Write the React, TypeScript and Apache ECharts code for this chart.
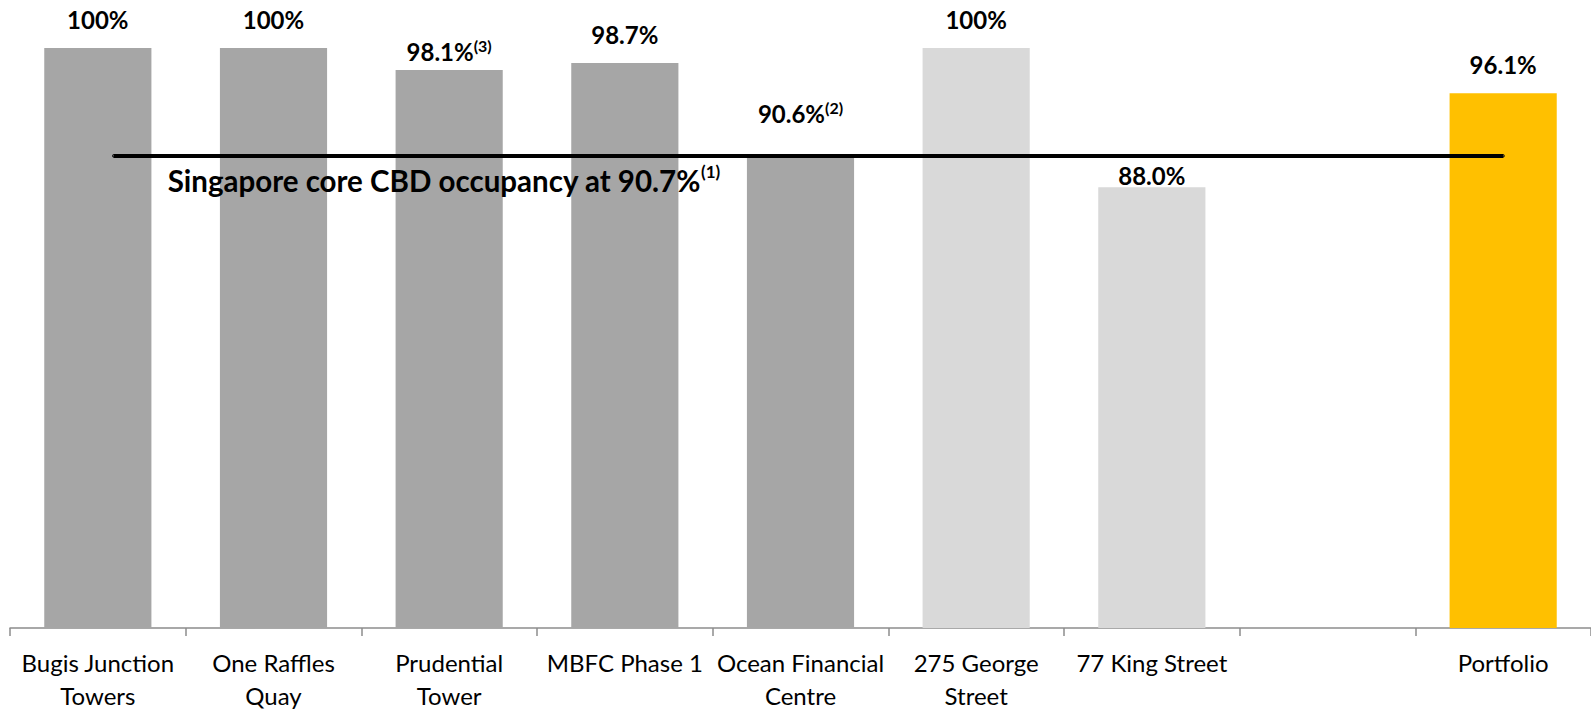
import React, { useEffect, useRef } from "react";
import * as echarts from "echarts";

// ---- data ----
const categories = [
  "Bugis Junction\nTowers",
  "One Raffles\nQuay",
  "Prudential\nTower",
  "MBFC Phase 1",
  "Ocean Financial\nCentre",
  "275 George\nStreet",
  "77 King Street",
  "",
  "Portfolio",
];
const occupancy: (number | null)[] = [100, 100, 98.1, 98.7, 90.6, 100, 88.0, null, 96.1];
const footnotes = ["", "", "(3)", "", "(2)", "", "", "", ""];
const cbdOccupancy = 90.7;
const cbdText = "Singapore core CBD occupancy at 90.7%";
const cbdNote = "(1)";
const cbdLineSpan = [0.59, 8.5]; // in category units along the axis

// ---- styles ----
const barColors = ["#A6A6A6", "#A6A6A6", "#A6A6A6", "#A6A6A6", "#A6A6A6", "#D9D9D9", "#D9D9D9", "#D9D9D9", "#FFC000"];
const labelDistances = [15, 15, 5, 15, 30, 15, -2, 0, 15];
const FONT = "Lato";

const fmtValue = (v: number) => (v === 100 ? "100%" : v.toFixed(1) + "%");

export default function App() {
  const ref = useRef<HTMLDivElement>(null);
  useEffect(() => {
    if (!ref.current) return;
    const chart = echarts.init(ref.current, null, { renderer: "svg" });
    const barData = occupancy.map((v, i) => ({
      value: v,
      itemStyle: { color: barColors[i] },
      label: { distance: labelDistances[i] },
    }));
    chart.setOption({
      animation: false,
      grid: { left: 10, right: 0, top: 48, bottom: 80, containLabel: false },
      xAxis: [
        {
          type: "category",
          data: categories,
          boundaryGap: true,
          axisLine: { show: true, lineStyle: { color: "#8C8C8C", width: 1.5 } },
          axisTick: { show: true, length: 8, lineStyle: { color: "#8C8C8C", width: 1.5 } },
          axisLabel: {
            interval: 0,
            margin: 18,
            color: "#000",
            fontFamily: FONT,
            fontSize: 24,
            lineHeight: 33,
          },
        },
        { type: "value", min: 0, max: 9, show: false },
      ],
      yAxis: { type: "value", min: 50, max: 100, show: false },
      series: [
        {
          type: "bar",
          data: barData,
          barCategoryGap: "39%",
          label: {
            show: true,
            position: "top",
            formatter: (p: any) => {
              const note = footnotes[p.dataIndex];
              return "{v|" + fmtValue(p.value) + "}" + (note ? "{s|" + note + "}" : "");
            },
            rich: {
              v: { fontFamily: FONT, fontWeight: "bold", fontSize: 24, lineHeight: 28, color: "#000" },
              s: { fontFamily: FONT, fontWeight: "bold", fontSize: 16, verticalAlign: "top", color: "#000" },
            },
          },
        },
        {
          type: "line",
          xAxisIndex: 1,
          z: 5,
          symbolSize: 1,
          showSymbol: true,
          itemStyle: { color: "#000" },
          lineStyle: { color: "#000", width: 4 },
          data: [
            {
              value: [cbdLineSpan[0], cbdOccupancy],
              label: {
                show: true,
                position: "bottom",
                align: "left",
                distance: 6,
                offset: [54, 0],
                formatter: "{a|" + cbdText + "}{s|" + cbdNote + "}",
                rich: {
                  a: { fontFamily: FONT, fontWeight: "bold", fontSize: 29.5, lineHeight: 35, color: "#000" },
                  s: { fontFamily: FONT, fontWeight: "bold", fontSize: 17, verticalAlign: "top", color: "#000" },
                },
              },
            },
            { value: [cbdLineSpan[1], cbdOccupancy], label: { show: false } },
          ],
        },
      ],
    });
    return () => chart.dispose();
  }, []);
  return (
    <div
      ref={ref}
      style={{ position: "absolute", left: 0, top: 0, width: 1591, height: 712 }}
    />
  );
}
